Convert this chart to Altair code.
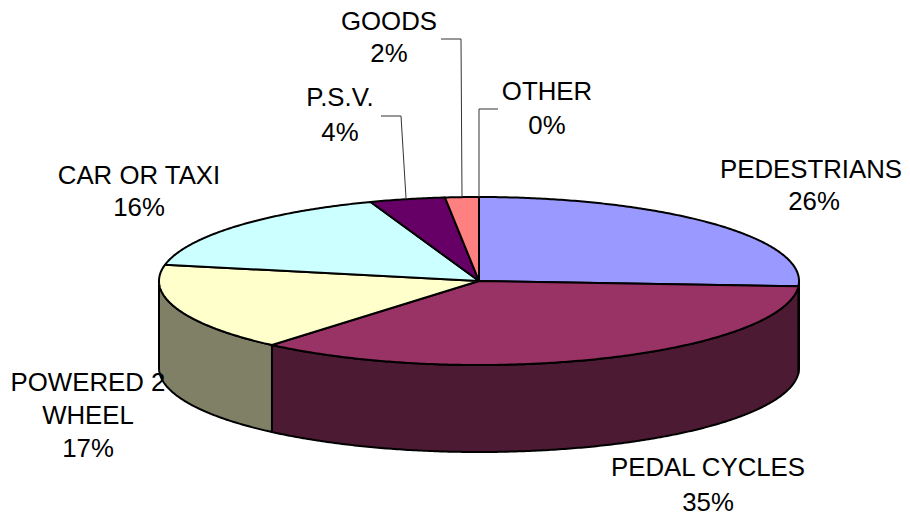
import numpy as np
import pandas as pd
import altair as alt

categories = ["PEDESTRIANS", "PEDAL CYCLES", "POWERED 2 WHEEL", "CAR OR TAXI", "P.S.V.", "GOODS", "OTHER"]
shares = [26.0, 35.2, 16.9, 16.4, 3.8, 1.7, 0.0]
top_colors = ["#9999FF", "#993366", "#FFFFCC", "#CCFFFF", "#660066", "#FF8080", "#CCCCFF"]
side_colors = ["#4D4D80", "#4D1A33", "#808066", "#668080", "#330033", "#804040", "#666680"]

label_lines = ["PEDESTRIANS", "26%", "PEDAL CYCLES", "35%", "POWERED 2", "WHEEL", "17%",
               "CAR OR TAXI", "16%", "P.S.V.", "4%", "GOODS", "2%", "OTHER", "0%"]
label_x = [811, 814, 708, 708, 88, 88, 88, 139, 139, 340, 340, 389, 389, 547, 547]
label_y = [170, 202, 468, 503, 383, 416, 449, 176, 208, 98, 133, 22, 54, 92, 126]

leader_x = [[381, 401, 406], [441, 461, 462], [498, 479, 479]]
leader_y = [[116, 116, 198], [39, 39, 197], [109, 109, 197]]

CX, CY, RX, RY, DEPTH = 479, 281, 320, 84, 87
X = alt.Scale(domain=[8, 902], range=[0, 894])
Y = alt.Scale(domain=[8, 516], range=[0, 508])


def arc(a0, a1, drop=0):
    t = np.radians(np.linspace(a0, a1, max(2, int(abs(a1 - a0) * 2) + 2)))
    return CX + RX * np.sin(t), CY - RY * np.cos(t) + drop


def poly(xs, ys, fill, width=2.0):
    df = pd.DataFrame({"x": xs, "y": ys, "i": range(len(xs))})
    return alt.Chart(df).mark_line(fill=fill, stroke="black", strokeWidth=width, strokeJoin="round", interpolate="linear-closed").encode(
        x=alt.X("x:Q", scale=X, axis=None),
        y=alt.Y("y:Q", scale=Y, axis=None),
        order="i:Q",
    )


edges = np.concatenate([[0], np.cumsum(shares)]) * 3.6 * 100 / sum(shares)
layers = []
for k in range(len(shares)):
    a0, a1 = max(edges[k], 90), min(edges[k + 1], 270)
    if a1 > a0:
        tx, ty = arc(a0, a1)
        bx, by = arc(a1, a0, DEPTH)
        layers.append(poly(np.r_[tx, bx], np.r_[ty, by], side_colors[k]))
for k in range(len(shares)):
    if shares[k] > 0:
        tx, ty = arc(edges[k], edges[k + 1])
        layers.append(poly(np.r_[CX, tx], np.r_[CY, ty], top_colors[k]))

for lx, ly in zip(leader_x, leader_y):
    df = pd.DataFrame({"x": lx, "y": ly, "i": range(len(lx))})
    layers.append(alt.Chart(df).mark_line(color="#333333", strokeWidth=1).encode(
        x=alt.X("x:Q", scale=X, axis=None), y=alt.Y("y:Q", scale=Y, axis=None), order="i:Q"))

labels = pd.DataFrame({"t": label_lines, "x": label_x, "y": label_y})
layers.append(alt.Chart(labels).mark_text(font="Liberation Sans", fontSize=25.8, color="black", align="center", baseline="middle").encode(
    x=alt.X("x:Q", scale=X, axis=None), y=alt.Y("y:Q", scale=Y, axis=None), text="t:N"))

chart = alt.layer(*layers).properties(width=894, height=508, padding=0, background="white").configure_view(stroke=None)
chart = chart.properties(autosize=alt.AutoSizeParams(type="none"))
chart.save("out.html", embed_options={"renderer": "svg", "actions": False})
